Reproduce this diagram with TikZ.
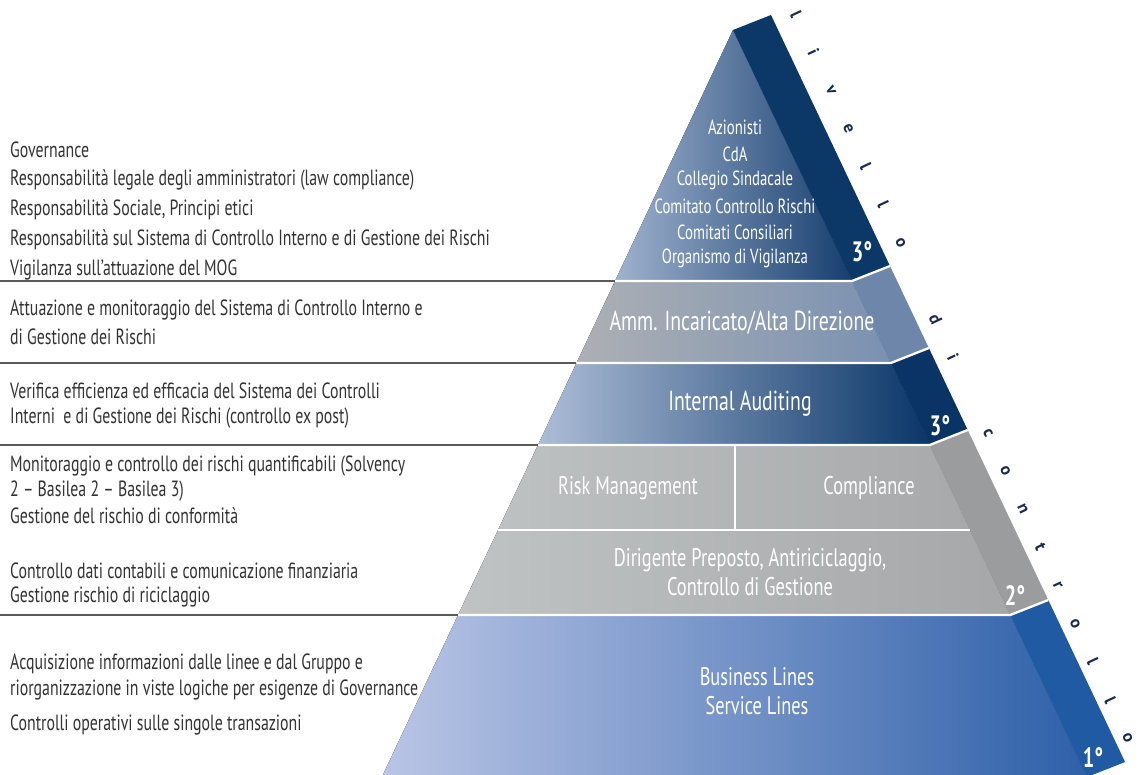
\documentclass[tikz,border=0pt]{standalone}
\usepackage{fontspec}
\setmainfont{PT Sans}[FakeStretch=0.72]
\newfontfamily\lvlfont{PT Sans}
\usetikzlibrary{calc}
\definecolor{txtgray}{HTML}{333333}
\definecolor{sepgray}{HTML}{5A5A5A}
\definecolor{lettercol}{HTML}{1A2B4C}
\definecolor{bAL}{HTML}{A0B2CE}
\definecolor{bAR}{HTML}{163E6F}
\definecolor{bAS}{HTML}{0C3868}
\definecolor{bBL}{HTML}{ADB0B4}
\definecolor{bBR}{HTML}{7A91B2}
\definecolor{bBS}{HTML}{6E86AA}
\definecolor{bCL}{HTML}{ADBDD7}
\definecolor{bCR}{HTML}{0A3668}
\definecolor{bCS}{HTML}{0A3466}
\definecolor{bDL}{HTML}{C0C3C4}
\definecolor{bDR}{HTML}{A5A7A8}
\definecolor{bDS}{HTML}{9A9C9D}
\definecolor{bEL}{HTML}{BAC5E6}
\definecolor{bER}{HTML}{2E60A9}
\definecolor{bES}{HTML}{1F5AA2}
\begin{document}
\begin{tikzpicture}[x=1pt,y=-1pt,
  lefttxt/.style={anchor=west, inner sep=0pt, text=txtgray, font=\fontsize{22}{26}\selectfont},
  pyrtxt/.style={inner sep=0pt, text=white, align=center, font=\fontsize{25.5}{29}\selectfont},
  bigtxt/.style={inner sep=0pt, text=white, align=center, font=\fontsize{27.5}{29}\selectfont},
  toptxt/.style={inner sep=0pt, text=white, font=\fontsize{20.5}{24}\selectfont},
  deg/.style={inner sep=0pt, text=white, font=\fontsize{28}{30}\selectfont\bfseries},
  lvl/.style={inner sep=0pt, text=lettercol, font=\lvlfont\fontsize{17}{18}\selectfont\bfseries, rotate=-65},
  sepw/.style={draw=white, line width=2.3pt},
  sepg/.style={draw=sepgray, line width=2.3pt}]
\useasboundingbox (0,0) rectangle (1140,775);
\clip (0,0) rectangle (1140,775);
\fill[white] (0,0) rectangle (1140,775);

% geometry
\foreach \i/\yy in {0/30,1/281,2/363,3/445,4/530,5/615,6/777}{
  \coordinate (L\i) at ({733-0.47*(\yy-30)},\yy);
  \coordinate (R\i) at ({733+0.474*(\yy-30)},\yy);
  \coordinate (O\i) at ({771+0.474*(\yy-30)},{\yy-15});
}

% level 3 top
\fill[left color=bAL, right color=bAR] (L0) -- (L1) -- (R1) -- cycle;
\fill[bAS] (R0) -- (O0) -- (O1) -- (R1) -- cycle;
% Amm.
\fill[left color=bBL, right color=bBR] (L1) -- (R1) -- (R2) -- (L2) -- cycle;
\fill[bBS] (R1) -- (O1) -- (O2) -- (R2) -- cycle;
% Internal auditing
\fill[left color=bCL, right color=bCR] (L2) -- (R2) -- (R3) -- (L3) -- cycle;
\fill[bCS] (R2) -- (O2) -- (O3) -- (R3) -- cycle;
% level 2
\fill[left color=bDL, right color=bDR] (L3) -- (R3) -- (R5) -- (L5) -- cycle;
\fill[bDS] (R3) -- (O3) -- (O5) -- (R5) -- cycle;
% level 1
\fill[left color=bEL, right color=bER] (L5) -- (R5) -- (R6) -- (L6) -- cycle;
\fill[bES] (R5) -- (O5) -- (O6) -- (R6) -- cycle;

% white separators
\draw[sepw] (L1) -- (R1) -- (O1);
\draw[sepw] (L2) -- (R2) -- (O2);
\draw[sepw] (L3) -- (R3) -- (O3);
\draw[sepw] (L4) -- (R4);
\draw[sepw] (L5) -- (R5) -- (O5);
\coordinate (dv1) at (735,445);
\coordinate (dv2) at (735,530);
\draw[sepw] (dv1) -- (dv2);

% left grey rules
\coordinate (g1) at (0,281);
\coordinate (g2) at (0,363);
\coordinate (g3) at (0,445);
\coordinate (g5) at (0,615);
\draw[sepg] (g1) -- (L1);
\draw[sepg] (g2) -- (L2);
\draw[sepg] (g3) -- (L3);
\draw[sepg] (g5) -- (L5);

% left texts
\node[lefttxt] (t1) at (10,150) {Governance};
\node[lefttxt] (t2) at (10,180) {Responsabilità legale degli amministratori (law compliance)};
\node[lefttxt] (t3) at (10,210) {Responsabilità Sociale, Principi etici};
\node[lefttxt] (t4) at (10,240) {Responsabilità sul Sistema di Controllo Interno e di Gestione dei Rischi};
\node[lefttxt] (t5) at (10,270) {Vigilanza sull’attuazione del MOG};
\node[lefttxt] (t6) at (10,310) {Attuazione e monitoraggio del Sistema di Controllo Interno e};
\node[lefttxt] (t7) at (10,337) {di Gestione dei Rischi};
\node[lefttxt] (t8) at (10,391) {Verifica efficienza ed efficacia del Sistema dei Controlli};
\node[lefttxt] (t9) at (10,418) {Interni\ \ e di Gestione dei Rischi (controllo ex post)};
\node[lefttxt] (t10) at (10,466) {Monitoraggio e controllo dei rischi quantificabili (Solvency};
\node[lefttxt] (t11) at (10,491) {2 – Basilea 2 – Basilea 3)};
\node[lefttxt] (t12) at (10,516) {Gestione del rischio di conformità};
\node[lefttxt] (t13) at (10,571) {Controllo dati contabili e comunicazione finanziaria};
\node[lefttxt] (t14) at (10,597) {Gestione rischio di riciclaggio};
\node[lefttxt] (t15) at (10,664) {Acquisizione informazioni dalle linee e dal Gruppo e};
\node[lefttxt] (t16) at (10,690) {riorganizzazione in viste logiche per esigenze di Governance};
\node[lefttxt] (t17) at (10,725) {Controlli operativi sulle singole transazioni};

% pyramid texts
\node[toptxt] (p1) at (735,127) {Azionisti};
\node[toptxt] (p2) at (735,154) {CdA};
\node[toptxt] (p3) at (735,180) {Collegio Sindacale};
\node[toptxt] (p4) at (735,206) {Comitato Controllo Rischi};
\node[toptxt] (p5) at (735,232) {Comitati Consiliari};
\node[toptxt] (p6) at (735,258) {Organismo di Vigilanza};
\node[bigtxt] (p7) at (742,323) {Amm. Incaricato/Alta Direzione};
\node[bigtxt] (p8) at (740,404) {Internal Auditing};
\node[pyrtxt] (p9) at (628,488) {Risk Management};
\node[pyrtxt] (p10) at (869,488) {Compliance};
\node[pyrtxt] (p11) at (750,572) {Dirigente Preposto, Antiriciclaggio,\\Controllo di Gestione};
\node[pyrtxt] (p12) at (757,691) {Business Lines\\Service Lines};

% level marks
\node[deg] (d1) at (862,252) {3°};
\node[deg] (d2) at (940,426) {3°};
\node[deg] (d3) at (1015,596) {2°};
\node[deg] (d4) at (1093,757) {1°};

% livello di controllo
\foreach \k/\c in {0/l,1/i,2/v,3/e,4/l,5/l,6/o,8/d,9/i,11/c,12/o,13/n,14/t,15/r,16/o,17/l,18/l,19/o}{
  \node[lvl] (lv\k) at ({796+17.45*\k},{14+38.1*\k}) {\c};
}
\end{tikzpicture}
\end{document}
